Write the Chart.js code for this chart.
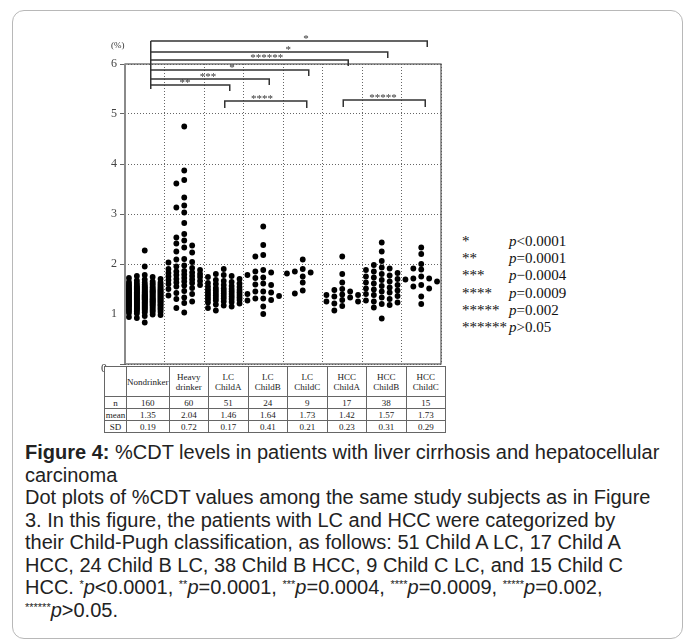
<!DOCTYPE html>
<html>
<head>
<meta charset="utf-8">
<script src="https://cdn.jsdelivr.net/npm/chart.js@4.4.1/dist/chart.umd.min.js"></script>
<style>
  html, body { margin:0; padding:0; background:#fff; }
  body { width:691px; height:643px; position:relative; overflow:hidden; font-family:"Liberation Serif","Times New Roman",serif; }
  #frame { position:absolute; left:12px; top:10px; width:669px; height:627px; border:1px solid #b8b8b8; border-radius:12px; }
  #wrap { position:absolute; left:0; top:0; width:460px; height:376px; }
  #pct { position:absolute; left:111px; top:40px; font-size:9px; color:#333; }
  #zero { position:absolute; left:101px; top:361px; font-size:12px; color:#444; }
  table { position:absolute; left:104px; top:366px; border-collapse:collapse; table-layout:fixed; font-size:9px; color:#222; background:#fff; }
  td { border:1px solid #666; text-align:center; padding:0; line-height:10px; overflow:hidden; white-space:nowrap; }
  tr.head td { height:29px; }
  tr.row td { height:11px; }
  #legend { position:absolute; left:462px; top:233px; font-size:15px; line-height:17.2px; color:#111; }
  #legend .st { display:inline-block; width:47px; }
  #legend i { font-style:italic; }
  #caption { position:absolute; left:25px; top:441px; font-family:"Liberation Sans",Arial,sans-serif; font-size:20px; line-height:22.5px; color:#222; white-space:nowrap; }
  #caption sup { font-size:11px; vertical-align:6px; line-height:0; }
</style>
</head>
<body>
<div id="frame"></div>
<div id="wrap"><canvas id="chart" width="460" height="376"></canvas></div>
<div id="pct">(%)</div>
<div id="zero">0</div>
<table id="tbl"></table>
<div id="legend"></div>
<div id="caption">
  <b>Figure 4:</b> %CDT levels in patients with liver cirrhosis and hepatocellular<br>
  carcinoma<br>
  Dot plots of %CDT values among the same study subjects as in Figure<br>
  3. In this figure, the patients with LC and HCC were categorized by<br>
  their Child-Pugh classification, as follows: 51 Child A LC, 17 Child A<br>
  HCC, 24 Child B LC, 38 Child B HCC, 9 Child C LC, and 15 Child C<br>
  HCC. <sup>*</sup><i>p</i>&lt;0.0001, <sup>**</sup><i>p</i>=0.0001, <sup>***</sup><i>p</i>=0.0004, <sup>****</sup><i>p</i>=0.0009, <sup>*****</sup><i>p</i>=0.002,<br>
  <sup>******</sup><i>p</i>&gt;0.05.
</div>
<script>
// groups shown left to right, with the table rows under them
const groups = ["Nondrinker", "Heavy drinker", "LC ChildA", "LC ChildB", "LC ChildC", "HCC ChildA", "HCC ChildB", "HCC ChildC"];
const groupHead = [["Nondrinker"], ["Heavy", "drinker"], ["LC", "ChildA"], ["LC", "ChildB"], ["LC", "ChildC"], ["HCC", "ChildA"], ["HCC", "ChildB"], ["HCC", "ChildC"]];
const nValues = ["160", "60", "51", "24", "9", "17", "38", "15"];
const meanValues = ["1.35", "2.04", "1.46", "1.64", "1.73", "1.42", "1.57", "1.73"];
const sdValues = ["0.19", "0.72", "0.17", "0.41", "0.21", "0.23", "0.31", "0.29"];

// %CDT per subject
const nondrinker = [
  0.83, 0.92, 0.94, 0.96, 0.98, 0.99, 1.01, 1.02, 1.03, 1.04, 1.04,
  1.05, 1.06, 1.06, 1.07, 1.08, 1.08, 1.09, 1.09,
  1.10, 1.10, 1.11, 1.11, 1.12, 1.12, 1.13, 1.13, 1.14, 1.14,
  1.15, 1.15, 1.16, 1.16, 1.17, 1.17, 1.17, 1.18, 1.18, 1.19, 1.19, 1.19,
  1.20, 1.20, 1.21, 1.21, 1.22, 1.22, 1.22, 1.23, 1.23, 1.24, 1.24, 1.24, 1.24,
  1.25, 1.25, 1.26, 1.26, 1.26, 1.27, 1.27, 1.28, 1.28, 1.28, 1.29, 1.29, 1.29, 1.29,
  1.30, 1.30, 1.30, 1.31, 1.31, 1.31, 1.32, 1.32, 1.32, 1.33, 1.33, 1.33, 1.34, 1.34, 1.34,
  1.35, 1.35, 1.35, 1.36, 1.36, 1.36, 1.37, 1.37, 1.37, 1.38, 1.38, 1.38, 1.39, 1.39, 1.39,
  1.40, 1.40, 1.41, 1.41, 1.41, 1.42, 1.42, 1.43, 1.43, 1.43, 1.44, 1.44, 1.44, 1.44,
  1.45, 1.45, 1.46, 1.46, 1.46, 1.47, 1.47, 1.48, 1.48, 1.48, 1.49, 1.49, 1.49,
  1.50, 1.50, 1.51, 1.51, 1.52, 1.52, 1.53, 1.53, 1.54, 1.54, 1.54,
  1.55, 1.56, 1.56, 1.57, 1.58, 1.58, 1.59, 1.59,
  1.60, 1.61, 1.62, 1.63, 1.63, 1.64, 1.65, 1.67, 1.69, 1.70, 1.72, 1.74, 1.76, 1.78,
  1.95, 2.27
];
const heavyDrinker = [
  4.75, 3.87, 3.68, 3.61, 3.33, 3.17, 3.13, 3.03, 2.82, 2.60, 2.53, 2.47, 2.41, 2.37, 2.33,
  2.25, 2.23, 2.10, 2.09, 2.04, 2.03, 1.97,
  1.95, 1.92, 1.90, 1.88, 1.86, 1.85, 1.83, 1.82, 1.80, 1.79, 1.78, 1.76, 1.75, 1.74, 1.72,
  1.70, 1.69, 1.68, 1.66, 1.65, 1.63, 1.62, 1.60, 1.58, 1.57, 1.55, 1.52, 1.50, 1.46, 1.42,
  1.40, 1.37, 1.33, 1.30, 1.25, 1.22, 1.12, 1.03
];
const lcChildA = [
  1.90, 1.80, 1.78, 1.76, 1.74, 1.70, 1.68, 1.66, 1.64, 1.62, 1.61, 1.60, 1.58, 1.56, 1.55,
  1.54, 1.52, 1.51, 1.50, 1.49, 1.48, 1.47, 1.46, 1.45, 1.44, 1.43, 1.42, 1.41, 1.40, 1.39,
  1.38, 1.37, 1.36, 1.35, 1.34, 1.33, 1.32, 1.31, 1.30, 1.29, 1.28, 1.27, 1.25, 1.24, 1.23,
  1.21, 1.19, 1.17, 1.15, 1.12, 1.07
];
const lcChildB = [
  2.75, 2.38, 2.18, 2.15, 1.88, 1.85, 1.83, 1.78, 1.73, 1.72, 1.61, 1.59, 1.58, 1.45, 1.45,
  1.43, 1.40, 1.36, 1.31, 1.31, 1.28, 1.27, 1.15, 1.00
];
const lcChildC = [2.09, 1.90, 1.85, 1.83, 1.81, 1.75, 1.63, 1.47, 1.41];
const hccChildA = [2.15, 1.80, 1.63, 1.50, 1.48, 1.45, 1.39, 1.38, 1.38, 1.35, 1.33, 1.28, 1.25, 1.25, 1.21, 1.16, 1.07];
const hccChildB = [
  2.43, 2.25, 2.06, 1.98, 1.93, 1.91, 1.88, 1.85, 1.82, 1.80, 1.77, 1.75, 1.73, 1.70, 1.68,
  1.65, 1.63, 1.61, 1.58, 1.56, 1.53, 1.51, 1.49, 1.47, 1.45, 1.43, 1.40, 1.38, 1.36, 1.33,
  1.30, 1.27, 1.25, 1.23, 1.20, 1.18, 1.13, 0.91
];
const hccChildC = [2.33, 2.20, 2.00, 1.91, 1.89, 1.75, 1.71, 1.71, 1.69, 1.65, 1.58, 1.55, 1.51, 1.35, 1.20];
const series = [nondrinker, heavyDrinker, lcChildA, lcChildB, lcChildC, hccChildA, hccChildB, hccChildC];

const yTicks = [0, 1, 2, 3, 4, 5, 6];

// significance brackets: group index from/to, height in %, star label, label x in group units
const bracketFrom  = [0, 0, 0, 0, 0, 0, 2, 5];
const bracketTo    = [7, 6, 5, 4, 3, 2, 4, 7];
const bracketLevel = [6.46, 6.24, 6.08, 5.88, 5.70, 5.58, 5.26, 5.28];
const bracketLabel = ["*", "*", "******", "*", "***", "**", "****", "*****"];
const bracketTextX = [4.08, 3.63, 3.09, 2.21, 1.60, 1.02, 2.97, 6.03];

const legendStars = ["*", "**", "***", "****", "*****", "******"];
const legendP = ["<0.0001", "=0.0001", "\u22120.0004", "=0.0009", "=0.002", ">0.05"];

// stack dots of close values side by side in up to 5 columns
function swarm(values, g) {
  const cols = [0, -1, 1, -2, 2];
  const placed = {};
  cols.forEach(c => placed[c] = []);
  return values.slice().sort((a, b) => b - a).map(v => {
    let best = 0, bestGap = -1;
    for (const c of cols) {
      const gap = placed[c].length ? Math.min(...placed[c].map(p => Math.abs(p - v))) : Infinity;
      if (gap >= 0.11) { best = c; break; }
      if (gap > bestGap) { bestGap = gap; best = c; }
    }
    placed[best].push(v);
    return { x: g + best * 0.2, y: v };
  });
}

// table under the plot
(function buildTable() {
  const t = document.getElementById("tbl");
  let html = '<colgroup><col style="width:22px">' + groups.map(() => '<col style="width:39.5px">').join("") + "</colgroup>";
  html += '<tr class="head"><td></td>' + groupHead.map(h => "<td>" + h.join("<br>") + "</td>").join("") + "</tr>";
  [["n", nValues], ["mean", meanValues], ["SD", sdValues]].forEach(([k, arr]) => {
    html += '<tr class="row"><td>' + k + "</td>" + arr.map(v => "<td>" + v + "</td>").join("") + "</tr>";
  });
  t.innerHTML = html;
})();

document.getElementById("legend").innerHTML = legendStars.map((s, i) =>
  '<div><span class="st">' + s + "</span><i>p</i>" + legendP[i] + "</div>").join("");

const boxAndBrackets = {
  id: "boxAndBrackets",
  afterDatasetsDraw(chart) {
    const { ctx, chartArea: a, scales: { x, y } } = chart;
    ctx.save();
    ctx.strokeStyle = "#555";
    ctx.lineWidth = 1.2;
    ctx.strokeRect(a.left, a.top, a.right - a.left, a.bottom - a.top);
    ctx.strokeStyle = "#8a8a8a";
    ctx.lineWidth = 2;
    ctx.beginPath(); ctx.moveTo(a.left, a.top); ctx.lineTo(a.left, a.bottom); ctx.stroke();

    ctx.strokeStyle = "#333";
    ctx.lineWidth = 1.5;
    ctx.fillStyle = "#333";
    ctx.font = "11px 'Liberation Serif', serif";
    ctx.textAlign = "center";
    ctx.textBaseline = "bottom";
    const leftX = x.getPixelForValue(0) + 6;
    ctx.beginPath();
    ctx.moveTo(leftX, y.getPixelForValue(6.46));
    ctx.lineTo(leftX, y.getPixelForValue(5.5));
    ctx.stroke();
    bracketFrom.forEach((f, i) => {
      const yy = y.getPixelForValue(bracketLevel[i]);
      const lower = bracketLevel[i] < 5.4;
      const x1 = x.getPixelForValue(f) + (lower ? 1 : 6);
      const x2 = x.getPixelForValue(bracketTo[i]) + (lower ? 4 : 6);
      const tick = lower ? 7 : 6;
      ctx.beginPath();
      if (lower) { ctx.moveTo(x1, yy + tick); ctx.lineTo(x1, yy); }
      else ctx.moveTo(x1, yy);
      ctx.lineTo(x2, yy);
      ctx.lineTo(x2, yy + tick);
      ctx.stroke();
      ctx.fillText(bracketLabel[i], x.getPixelForValue(bracketTextX[i]), yy + 4);
    });
    ctx.restore();
  }
};

new Chart(document.getElementById("chart"), {
  type: "scatter",
  data: {
    datasets: series.map((vals, g) => ({
      label: groups[g],
      data: swarm(vals, g),
      pointRadius: 2.9,
      pointBackgroundColor: "#000",
      pointBorderWidth: 0
    }))
  },
  options: {
    responsive: false,
    animation: false,
    layout: { padding: { left: 100, right: 19, top: 64, bottom: 12 } },
    plugins: { legend: { display: false }, tooltip: { enabled: false } },
    scales: {
      x: {
        type: "linear", min: -0.5, max: 7.5,
        ticks: { display: false, stepSize: 1 },
        grid: { color: "#666", lineWidth: 1, drawTicks: false },
        border: { display: false, dash: [1, 2] },
        afterFit(scale) { scale.height = 0; }
      },
      y: {
        min: 0, max: 6,
        afterBuildTicks(scale) { scale.ticks = yTicks.map(v => ({ value: v })); },
        ticks: {
          padding: 3, color: "#444",
          font: { family: "'Liberation Serif', serif", size: 12 },
          callback: v => (v === 0 ? "" : String(v))
        },
        grid: {
          color: c => (c.tick && c.tick.value === 1 ? "rgba(0,0,0,0)" : "#666"),
          lineWidth: 1, tickLength: 5
        },
        border: { display: false, dash: [1, 2] },
        afterFit(scale) { scale.width = 25; }
      }
    }
  },
  plugins: [boxAndBrackets]
});
</script>
</body>
</html>
